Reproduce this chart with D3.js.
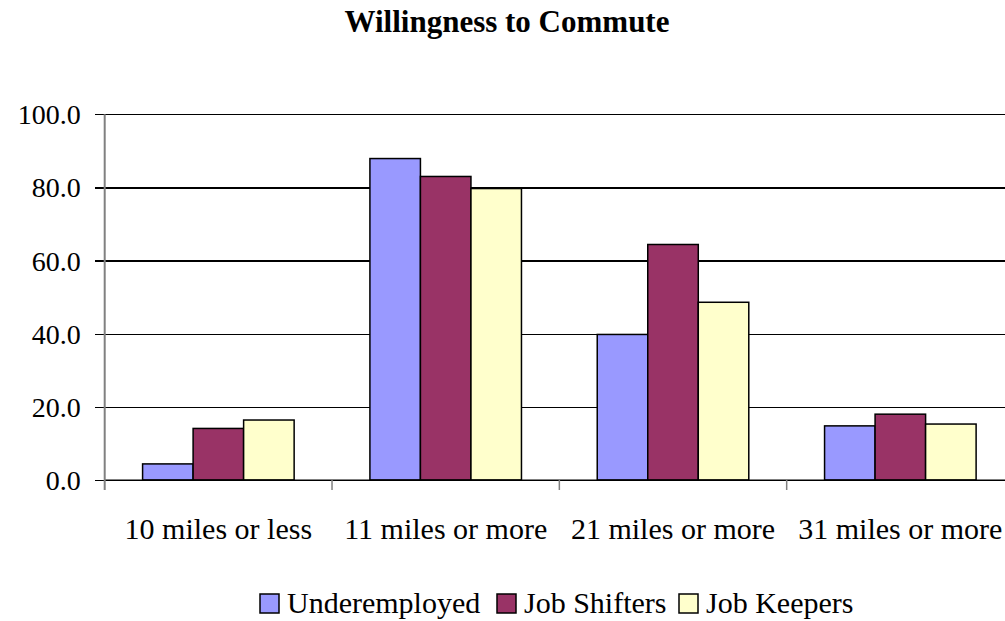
<!DOCTYPE html>
<html>
<head>
<meta charset="utf-8">
<script src="https://cdn.jsdelivr.net/npm/d3@7"></script>
<style>
  html, body { margin: 0; padding: 0; background: #fff; }
  svg { display: block; }
</style>
</head>
<body>
<svg id="chart" width="1005" height="621"></svg>
<script>
const title = "Willingness to Commute";
const categories = ["10 miles or less", "11 miles or more", "21 miles or more", "31 miles or more"];
const seriesNames = ["Underemployed", "Job Shifters", "Job Keepers"];
const underemployed = [4.4, 87.9, 39.8, 14.8];
const jobShifters = [14.1, 83.0, 64.4, 18.0];
const jobKeepers = [16.4, 79.7, 48.6, 15.3];
const yTicks = [0, 20, 40, 60, 80, 100];
const colors = ["#9999FF", "#993366", "#FFFFCC"];

const seriesValues = [underemployed, jobShifters, jobKeepers];
const FONT = "Liberation Serif";

const svg = d3.select("#chart");
const plotLeft = 104.7, plotRight = 1014, plotTop = 114.3, plotBottom = 480;

const x = d3.scaleBand().domain(categories).range([plotLeft, plotRight]).paddingInner(0).paddingOuter(0);
const xs = d3.scaleBand().domain(seriesNames).range([0, x.bandwidth()]).paddingInner(0).paddingOuter(0.75);
const y = d3.scaleLinear().domain([0, 100]).range([plotBottom, plotTop]);

// title
svg.append("text").attr("x", 507).attr("y", 32).attr("text-anchor", "middle")
  .attr("font-family", FONT).attr("font-weight", "bold").attr("font-size", 31).attr("fill", "#000").text(title);

// gridlines + y ticks
const yAxis = d3.axisLeft(y).tickValues(yTicks).tickFormat(d3.format(".1f"))
  .tickSize(-(plotRight - plotLeft)).tickSizeOuter(0);
const gy = svg.append("g").attr("transform", `translate(${plotLeft},0)`).call(yAxis)
  .attr("font-family", FONT);
gy.select(".domain").remove();
gy.selectAll(".tick line").attr("x1", -10).attr("stroke", "#000").attr("stroke-width", 1.2).attr("shape-rendering", "crispEdges");
gy.selectAll(".tick text").attr("x", -24)
  .attr("font-family", FONT).attr("font-size", 28).attr("fill", "#000").attr("dy", "0.34em");

// bars
const groups = svg.append("g").selectAll("g").data(seriesNames).join("g");
groups.each(function(s, si) {
  d3.select(this).selectAll("rect").data(categories).join("rect")
    .attr("x", c => x(c) + xs(s))
    .attr("width", xs.bandwidth())
    .attr("y", (c, ci) => y(seriesValues[si][ci]))
    .attr("height", (c, ci) => plotBottom - y(seriesValues[si][ci]))
    .attr("fill", colors[si])
    .attr("stroke", "#000")
    .attr("stroke-width", 1.5);
});

// x axis
const xAxis = d3.axisBottom(x).tickSize(0).tickPadding(0);
const gx = svg.append("g").attr("transform", `translate(0,${plotBottom})`).call(xAxis)
  .attr("font-family", FONT);
gx.select(".domain").remove();
gx.selectAll(".tick text").attr("dy", null).attr("y", 59)
  .attr("font-family", FONT).attr("font-size", 30).attr("fill", "#000");
gx.append("line").attr("x1", plotLeft).attr("x2", plotRight).attr("y1", 0).attr("y2", 0)
  .attr("stroke", "#000").attr("stroke-width", 1.2);
// category boundary ticks
const bounds = categories.slice(1).map(c => x(c));
gx.selectAll(".bt").data(bounds).join("line").attr("class", "bt")
  .attr("x1", d => d).attr("x2", d => d).attr("y1", 0).attr("y2", 10)
  .attr("stroke", "#808080").attr("stroke-width", 1.5);

// y axis line
svg.append("line").attr("x1", plotLeft).attr("x2", plotLeft).attr("y1", plotTop).attr("y2", plotBottom + 10)
  .attr("stroke", "#808080").attr("stroke-width", 2);

// legend
const legendX = [260, 497, 679];
const lg = svg.append("g");
seriesNames.forEach((name, i) => {
  lg.append("rect").attr("x", legendX[i]).attr("y", 594).attr("width", 19).attr("height", 19)
    .attr("fill", colors[i]).attr("stroke", "#000").attr("stroke-width", 1.5);
  lg.append("text").attr("x", legendX[i] + 27).attr("y", 613)
    .attr("font-family", FONT).attr("font-size", 30).attr("fill", "#000").text(name);
});
</script>
</body>
</html>
